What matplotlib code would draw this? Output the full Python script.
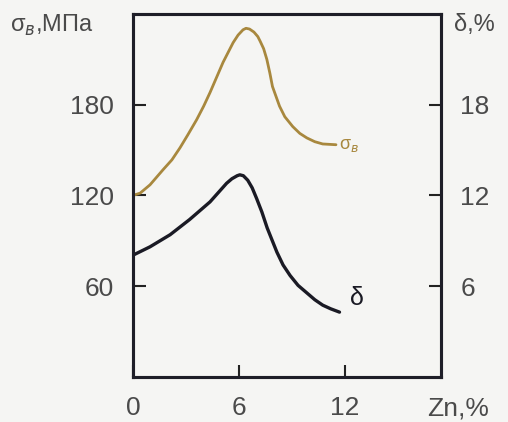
import matplotlib.pyplot as plt

plt.rcParams["font.family"] = ["Liberation Sans", "DejaVu Sans"]

# values
zn_sigma = [0, 0.4, 0.96, 1.7, 2.2, 2.66, 3.1, 3.6, 4.0, 4.36, 5.1, 5.67, 5.95, 6.23,
            6.4, 6.6, 6.85, 7.07, 7.2, 7.4, 7.58, 7.75, 7.9, 8.3, 8.6, 9.05, 9.45,
            9.85, 10.3, 10.75, 11.5]
sigma_b = [120, 121.5, 127, 137, 143.5, 151.5, 160, 170, 179, 188, 208, 221, 226,
           229.5, 230.5, 230, 228, 225, 222, 217, 210, 201, 192, 179, 172, 165.5,
           161, 158, 155.5, 154, 153.5]

zn_delta = [0, 0.96, 2.1, 3.2, 4.36, 5.3, 5.6, 5.9, 6.05, 6.25, 6.5, 6.75, 7.0, 7.3,
            7.6, 8.15, 8.5, 8.9, 9.35, 9.85, 10.3, 10.75, 11.2, 11.7]
delta = [8.05, 8.6, 9.4, 10.4, 11.57, 12.8, 13.1, 13.3, 13.36, 13.3, 13.0, 12.5, 11.8,
         10.9, 9.85, 8.25, 7.4, 6.7, 6.05, 5.55, 5.1, 4.74, 4.5, 4.28]

x_ticks = [0, 6, 12]
left_ticks = [60, 120, 180]
right_ticks = [6, 12, 18]

gold = "#a8883e"
text_c = "#4a4a4a"
bg = "#f5f5f3"

fig = plt.figure(figsize=(5.08, 4.22), dpi=100, facecolor=bg)
ax = fig.add_axes([0.262, 0.107, 0.606, 0.860], facecolor=bg)
ax2 = ax.twinx()

ax.plot(zn_sigma, sigma_b, color=gold, lw=2.0, solid_capstyle="round", solid_joinstyle="round")
ax2.plot(zn_delta, delta, color="#1a1a24", lw=2.4, solid_capstyle="round", solid_joinstyle="round")

ax.set_xlim(0, 17.45)
ax.set_ylim(0, 240)
ax2.set_ylim(0, 24)

ax.set_xticks(x_ticks)
ax.set_yticks(left_ticks)
ax2.set_yticks(right_ticks)

ax.tick_params(axis="both", direction="in", length=9, width=1.5, labelsize=19,
               colors="#222222")
ax.tick_params(axis="y", labelcolor=text_c, pad=14)
ax.tick_params(axis="x", labelcolor=text_c, pad=14)
ax2.tick_params(axis="y", direction="in", length=9, width=1.5, labelsize=19,
                colors="#222222")
ax2.tick_params(axis="y", labelcolor=text_c, pad=14)

for a in (ax, ax2):
    for s in a.spines.values():
        s.set_linewidth(2.2)
        s.set_color("#1e1e28")

ax.text(11.65, 153, "σ$_в$", color=gold, fontsize=13, va="center")
ax2.text(12.3, 5.2, "δ", color="#1a1a24", fontsize=18, va="center")

fig.text(0.02, 0.94, "σ$_в$,МПа", color=text_c, fontsize=17, va="center")
fig.text(0.893, 0.94, "δ,%", color=text_c, fontsize=17, va="center")
fig.text(0.84, 0.033, "Zn,%", color=text_c, fontsize=19, va="center")

fig.savefig("out.png", dpi=100, facecolor=bg)
